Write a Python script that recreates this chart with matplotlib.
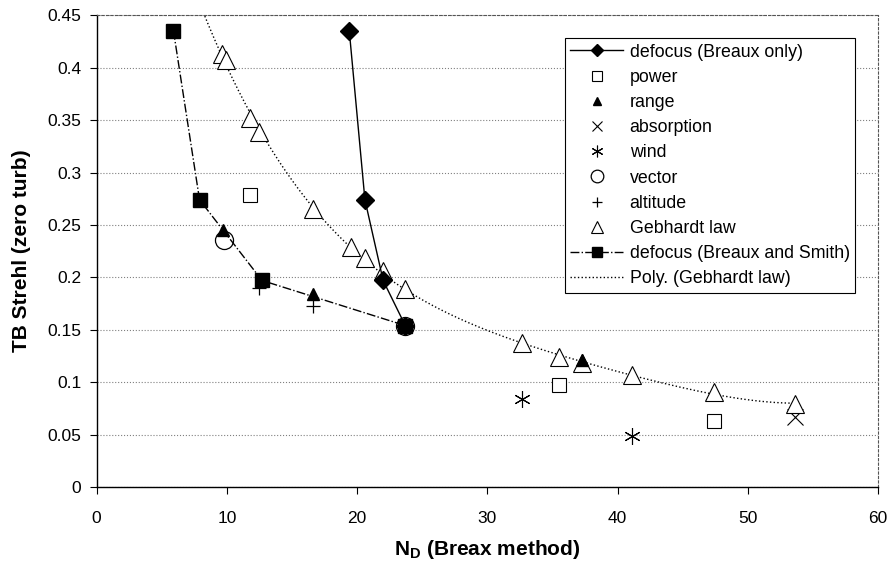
import numpy as np
import matplotlib
matplotlib.use("Agg")
from matplotlib import pyplot as plt

plt.rcParams['font.family'] = ['Liberation Sans', 'DejaVu Sans']
plt.rcParams['mathtext.fontset'] = 'custom'
plt.rcParams['mathtext.bf'] = 'Liberation Sans:bold'
plt.rcParams['mathtext.rm'] = 'Liberation Sans'

# defocus (Breaux only)
bo_x = [19.4, 20.6, 22.0, 23.7]
bo_y = [0.435, 0.274, 0.197, 0.154]
# defocus (Breaux and Smith)
bs_x = [5.9, 7.9, 12.7, 23.7]
bs_y = [0.435, 0.274, 0.197, 0.154]
# single-parameter runs
power_x = [11.8, 35.5, 47.4]
power_y = [0.279, 0.097, 0.063]
range_x = [9.7, 16.6, 37.25]
range_y = [0.245, 0.184, 0.121]
absorp_x = [53.6]
absorp_y = [0.067]
wind_x = [32.7, 41.1]
wind_y = [0.084, 0.049]
vector_x = [9.8, 23.7]
vector_y = [0.236, 0.154]
alt_x = [12.5, 16.6]
alt_y = [0.19, 0.173]
# Gebhardt law
geb_x = [9.6, 9.9, 11.8, 12.5, 16.6, 19.5, 20.6, 22.0, 23.7, 32.7, 35.5, 37.25, 41.1, 47.4, 53.6]
geb_y = [0.413, 0.407, 0.352, 0.339, 0.265, 0.229, 0.218, 0.206, 0.189, 0.137, 0.124, 0.118, 0.107, 0.091, 0.079]

fig = plt.figure(figsize=(8.95, 5.65), dpi=100)
ax = fig.add_axes([0.108, 0.138, 0.873, 0.835])

# polynomial trendline like excel
coef = np.polyfit(geb_x, geb_y, 4)
tx = np.linspace(7.5, max(geb_x), 300)
ty = np.polyval(coef, tx)

ax.plot(bo_x, bo_y, '-', color='k', lw=1.0, marker='D', ms=9, mfc='k', mec='k',
        label='defocus (Breaux only)', zorder=4)
ax.plot(power_x, power_y, 's', ms=10, mfc='white', mec='k', mew=0.8, ls='none', label='power')
ax.plot(range_x, range_y, '^', ms=8, mfc='k', mec='k', ls='none', label='range', zorder=5)
ax.plot(absorp_x, absorp_y, 'x', ms=11, color='k', mew=0.8, ls='none', label='absorption')
ax.plot(wind_x, wind_y, marker=(6, 2, 0), ms=12, color='k', mew=0.8, ls='none', label='wind')
ax.plot(vector_x, vector_y, 'o', ms=13, mfc='white', mec='k', mew=0.9, ls='none', label='vector', zorder=3)
ax.plot(alt_x, alt_y, '+', ms=10, color='k', mew=0.9, ls='none', label='altitude')
ax.plot(geb_x, geb_y, '^', ms=12.5, mfc='white', mec='k', mew=0.8, ls='none', label='Gebhardt law', zorder=3)
ax.plot(bs_x, bs_y, '-.', color='k', lw=1.0, marker='s', ms=10, mfc='k', mec='k',
        label='defocus (Breaux and Smith)', zorder=4)
ax.plot(tx, ty, ':', color='k', lw=1.0, label='Poly. (Gebhardt law)', zorder=2)

ax.set_xlim(0, 60)
ax.set_ylim(0, 0.45)
ax.set_xticks([0, 10, 20, 30, 40, 50, 60])
ax.set_yticks([0, 0.05, 0.1, 0.15, 0.2, 0.25, 0.3, 0.35, 0.4, 0.45])
ax.set_yticklabels(['0', '0.05', '0.1', '0.15', '0.2', '0.25', '0.3', '0.35', '0.4', '0.45'])
ax.tick_params(direction='out', length=5, width=0.8, labelsize=12.5)
ax.tick_params(axis='x', pad=12)
ax.tick_params(axis='y', pad=6)
ax.grid(axis='y', ls=':', color='#808080', lw=0.8)

for s in ['top', 'right']:
    ax.spines[s].set_linestyle((0, (2, 2)))
    ax.spines[s].set_color('#555555')
    ax.spines[s].set_linewidth(0.8)
ax.spines['left'].set_linewidth(1.0)
ax.spines['bottom'].set_linewidth(1.0)

ax.set_xlabel(r'$\mathbf{N_D}$ (Breax method)', fontsize=15, fontweight='bold', labelpad=9)
ax.set_ylabel('TB Strehl (zero turb)', fontsize=15, fontweight='bold', labelpad=12)

leg = ax.legend(loc='upper right', bbox_to_anchor=(0.9706, 0.951), borderaxespad=0,
                fontsize=12.8, frameon=True, fancybox=False, edgecolor='k', framealpha=1,
                handlelength=3.0, labelspacing=0.46, borderpad=0.3, handletextpad=0.35,
                numpoints=1, markerscale=0.7)
leg.get_frame().set_linewidth(0.8)

fig.savefig('out.png', dpi=100)
